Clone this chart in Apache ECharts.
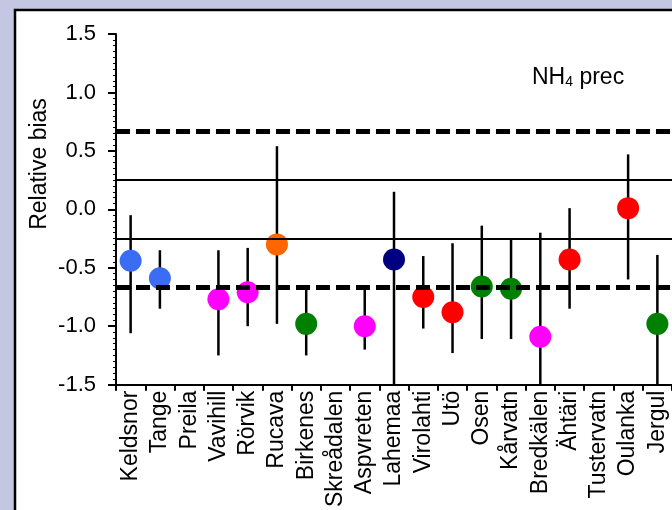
<!DOCTYPE html>
<html>
<head>
<meta charset="utf-8">
<script src="https://cdn.jsdelivr.net/npm/echarts@6/dist/echarts.min.js"></script>
<style>html,body{margin:0;padding:0;background:#c3c7e1;}#c{width:672px;height:510px;}</style>
</head>
<body>
<div id="c"></div>
<script>
const categories = ['Keldsnor','Tange','Preila','Vavihill','Rörvik','Rucava','Birkenes','Skreådalen','Aspvreten','Lahemaa','Virolahti','Utö','Osen','Kårvatn','Bredkälen','Ähtäri','Tustervatn','Oulanka','Jergul'];
const bias  = [-0.44, -0.59, null, -0.77, -0.71, -0.30, -0.98, null, -1.00, -0.43, -0.75, -0.88, -0.66, -0.68, -1.09, -0.43, null, 0.01, -0.98];
const upper = [-0.05, -0.35, null, -0.35, -0.33, 0.54, -0.67, null, -0.68, 0.15, -0.40, -0.29, -0.14, -0.25, -0.20, 0.01, null, 0.47, -0.39];
const lower = [-1.06, -0.85, null, -1.25, -1.00, -0.98, -1.25, null, -1.20, -1.50, -1.02, -1.23, -1.11, -1.11, -1.50, -0.85, null, -0.60, -1.50];
const colors = ['#3a6cf4','#3a6cf4',null,'#ff00ff','#ff00ff','#ff6600','#008000',null,'#ff00ff','#000080','#ff0000','#ff0000','#008000','#008000','#ff00ff','#ff0000',null,'#ff0000','#008000'];
const dashedLines = [0.67, -0.67];
const solidLines = [0.25, -0.25];
const yTicks = { min: -1.5, max: 1.5, interval: 0.5 };

const chart = echarts.init(document.getElementById('c'));
const font = 'Arial, "Liberation Sans", sans-serif';

const dotData = bias.map((v, i) => v === null ? null : { value: [i, v], itemStyle: { color: colors[i], opacity: 1 } }).filter(d => d);
const barData = bias.map((v, i) => v === null ? null : [i, upper[i], lower[i]]).filter(d => d);

chart.setOption({
  backgroundColor: '#c3c7e1',
  animation: false,
  graphic: [
    { type: 'rect', z: -10, shape: { x: 15, y: 10, width: 700, height: 600 },
      style: { fill: '#ffffff', stroke: '#000000', lineWidth: 2.5 } },
    { type: 'text', z: 10, x: 40, y: 164, rotation: Math.PI / 2,
      style: { text: 'Relative bias', font: '23px ' + font, fill: '#000', align: 'center', verticalAlign: 'middle' } },
    { type: 'text', z: 10, x: 532, y: 76,
      style: { text: '{a|NH}{b|4}{a| prec}', fill: '#000', verticalAlign: 'middle',
        rich: { a: { fontSize: 23, fontFamily: font, fill: '#000', verticalAlign: 'bottom', lineHeight: 26 },
                b: { fontSize: 14, fontFamily: font, fill: '#000', verticalAlign: 'bottom', lineHeight: 20 } } } }
  ],
  grid: { left: 116, top: 34, bottom: 124, right: -10 },
  xAxis: {
    type: 'category', data: categories,
    axisLine: { onZero: false, lineStyle: { color: '#000', width: 2 } },
    axisTick: { show: true, length: 6, lineStyle: { color: '#000', width: 2 } },
    axisLabel: { rotate: 90, margin: 6, interval: 0, fontSize: 23, fontFamily: font, color: '#000' },
    splitLine: { show: false }
  },
  yAxis: {
    type: 'value', min: yTicks.min, max: yTicks.max, interval: yTicks.interval,
    axisLine: { show: true, lineStyle: { color: '#000', width: 2 } },
    axisTick: { show: true, length: 8, lineStyle: { color: '#000', width: 2 } },
    minorTick: { show: true, splitNumber: 10, length: 3, lineStyle: { color: '#000', width: 1 } },
    axisLabel: { margin: 20, fontSize: 22, fontFamily: font, color: '#000', formatter: v => v.toFixed(1) },
    splitLine: { show: false }
  },
  series: [
    {
      type: 'line', data: [], z: 1, silent: true,
      markLine: {
        silent: true, symbol: ['none', 'none'], label: { show: false },
        data: dashedLines.map(v => ({ yAxis: v, lineStyle: { color: '#000', width: 5, type: [14, 6] } }))
          .concat(solidLines.map(v => ({ yAxis: v, lineStyle: { color: '#000', width: 2, type: 'solid' } })))
      }
    },
    {
      type: 'custom', z: 2, silent: true,
      data: barData,
      renderItem: function (params, api) {
        const p1 = api.coord([api.value(0), api.value(1)]);
        const p2 = api.coord([api.value(0), api.value(2)]);
        return { type: 'line', shape: { x1: p1[0], y1: p1[1], x2: p2[0], y2: p2[1] },
                 style: { stroke: '#000', lineWidth: 2.5 } };
      }
    },
    {
      type: 'scatter', z: 3, symbol: 'circle', symbolSize: 22,
      itemStyle: { opacity: 1 },
      data: dotData
    }
  ]
});
</script>
</body>
</html>
